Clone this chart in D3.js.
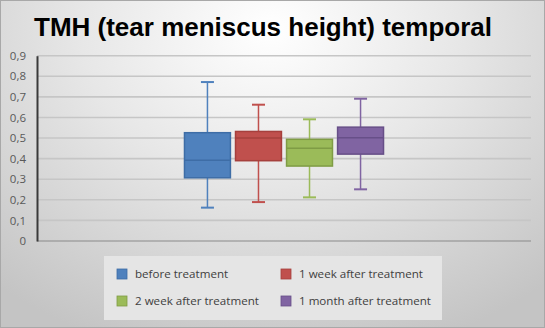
<!DOCTYPE html>
<html>
<head>
<meta charset="utf-8">
<script src="https://cdn.jsdelivr.net/npm/d3@7"></script>
<style>
  html, body { margin: 0; padding: 0; background: #fff; }
  svg { display: block; }
</style>
</head>
<body>
<svg id="chart" width="545" height="328"></svg>
<script>
// Tear meniscus height (temporal) — box plot per time point
const series = ["before treatment", "1 week after treatment", "2 week after treatment", "1 month after treatment"];
const colors = ["#4f81bd", "#c0504d", "#9bbb59", "#8064a2"];
const strokeColors = ["#3e6da6", "#a6403d", "#7f9c45", "#674f88"];
const whiskerLow  = [0.162, 0.189, 0.212, 0.251];
const q1          = [0.307, 0.390, 0.364, 0.422];
const median      = [0.392, 0.500, 0.450, 0.501];
const q3          = [0.526, 0.532, 0.494, 0.553];
const whiskerHigh = [0.772, 0.662, 0.591, 0.691];
const yTicks = [0, 0.1, 0.2, 0.3, 0.4, 0.5, 0.6, 0.7, 0.8, 0.9];

const W = 545, H = 328;
const svg = d3.select("#chart");
const defs = svg.append("defs");

const bg = defs.append("radialGradient").attr("id", "bg")
  .attr("gradientUnits", "userSpaceOnUse")
  .attr("cx", 270).attr("cy", 30).attr("r", 420)
  .attr("gradientTransform", "translate(270,30) scale(1,0.8) translate(-270,-30)");
bg.append("stop").attr("offset", "0%").attr("stop-color", "#ffffff");
bg.append("stop").attr("offset", "45%").attr("stop-color", "#e7e7e7");
bg.append("stop").attr("offset", "100%").attr("stop-color", "#c4c4c4");

svg.append("rect").attr("x", 0.5).attr("y", 0.5).attr("width", W - 1).attr("height", H - 1)
  .attr("fill", "url(#bg)").attr("stroke", "#a8a8a8");

// Title
svg.append("text").attr("x", 263).attr("y", 36)
  .attr("text-anchor", "middle")
  .attr("font-family", "Liberation Sans, Arial, sans-serif")
  .attr("font-weight", "bold").attr("font-size", 26)
  .attr("fill", "#000")
  .text("TMH (tear meniscus height) temporal");

const plot = { left: 37, right: 531, top: 55.7, bottom: 241 };

const y = d3.scaleLinear().domain([0, 0.9]).range([plot.bottom, plot.top]);

// One category band holding the four boxes side by side
const outer = d3.scaleBand().domain(["TMH"]).range([plot.left, plot.right])
  .paddingInner(0).paddingOuter(0.741);
const inner = d3.scaleBand().domain(series).range([0, outer.bandwidth()])
  .paddingInner(0.1).paddingOuter(0);

// Gridlines
const locale = d3.formatLocale({ decimal: ",", thousands: ".", grouping: [3], currency: ["", ""] });
const fmt = locale.format(".1f");
const yAxis = d3.axisLeft(y).tickValues(yTicks).tickSize(0).tickPadding(11)
  .tickFormat(d => d === 0 ? "0" : fmt(d));

const grid = svg.append("g");
grid.selectAll("line.g").data(yTicks.filter(d => d > 0)).join("line")
  .attr("x1", plot.left).attr("x2", plot.right)
  .attr("y1", d => y(d)).attr("y2", d => y(d))
  .attr("stroke", "#c6c6c6").attr("stroke-width", 1.6);

// Horizontal base line
svg.append("line").attr("x1", plot.left).attr("x2", plot.right)
  .attr("y1", y(0)).attr("y2", y(0)).attr("stroke", "#8a8a8a").attr("stroke-width", 1.2);

const ga = svg.append("g").attr("transform", `translate(${plot.left},0)`).call(yAxis);
ga.select(".domain").attr("stroke", "#3a3a3a").attr("stroke-width", 2);
ga.selectAll("text").attr("font-family", "Open Sans, sans-serif").attr("font-size", 11.5).attr("fill", "#595959");

// Boxes
const data = series.map((s, i) => ({
  s, i, lo: whiskerLow[i], q1: q1[i], med: median[i], q3: q3[i], hi: whiskerHigh[i]
}));
const bx = d => outer("TMH") + inner(d.s);
const cx = d => bx(d) + inner.bandwidth() / 2;
const capW = 13;

const g = svg.append("g").selectAll("g").data(data).join("g");
g.append("line").attr("x1", cx).attr("x2", cx)
  .attr("y1", d => y(d.hi)).attr("y2", d => y(d.q3))
  .attr("stroke", d => colors[d.i]).attr("stroke-width", 1.5);
g.append("line").attr("x1", cx).attr("x2", cx)
  .attr("y1", d => y(d.q1)).attr("y2", d => y(d.lo))
  .attr("stroke", d => colors[d.i]).attr("stroke-width", 1.5);
g.append("line").attr("x1", d => cx(d) - capW / 2).attr("x2", d => cx(d) + capW / 2)
  .attr("y1", d => y(d.hi)).attr("y2", d => y(d.hi))
  .attr("stroke", d => colors[d.i]).attr("stroke-width", 2);
g.append("line").attr("x1", d => cx(d) - capW / 2).attr("x2", d => cx(d) + capW / 2)
  .attr("y1", d => y(d.lo)).attr("y2", d => y(d.lo))
  .attr("stroke", d => colors[d.i]).attr("stroke-width", 2);
g.append("rect").attr("x", bx).attr("width", inner.bandwidth())
  .attr("y", d => y(d.q3)).attr("height", d => y(d.q1) - y(d.q3))
  .attr("fill", d => colors[d.i]).attr("stroke", d => strokeColors[d.i]).attr("stroke-width", 1.5);
g.append("line").attr("x1", bx).attr("x2", d => bx(d) + inner.bandwidth())
  .attr("y1", d => y(d.med)).attr("y2", d => y(d.med))
  .attr("stroke", d => strokeColors[d.i]).attr("stroke-width", 1.5);

// Legend
const leg = svg.append("g");
leg.append("rect").attr("x", 104).attr("y", 256).attr("width", 338).attr("height", 64)
  .attr("fill", "#e5e5e5");
const legPos = [[117, 274], [281, 274], [117, 301], [281, 301]];
const li = leg.selectAll("g").data(series).join("g")
  .attr("transform", (d, i) => `translate(${legPos[i][0]},${legPos[i][1]})`);
li.append("rect").attr("x", 0).attr("y", -5).attr("width", 10).attr("height", 10)
  .attr("fill", (d, i) => colors[i]).attr("stroke", (d, i) => strokeColors[i]).attr("stroke-width", 0.8);
li.append("text").attr("x", 18).attr("y", 4)
  .attr("font-family", "Open Sans, sans-serif").attr("font-size", 11.6).attr("fill", "#404040")
  .text(d => d);
</script>
</body>
</html>
